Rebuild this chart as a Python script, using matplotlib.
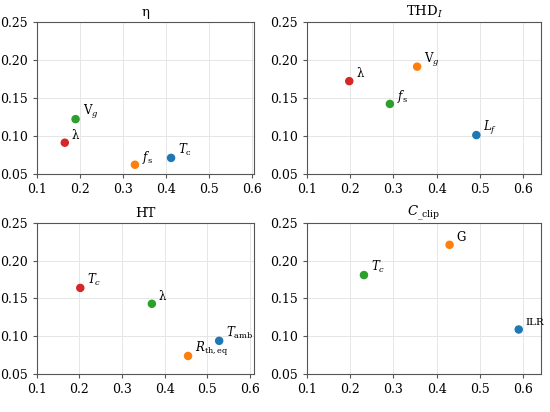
import matplotlib
matplotlib.use("Agg")
import matplotlib.pyplot as plt

plt.rcParams['font.family'] = 'DejaVu Serif'
plt.rcParams['mathtext.fontset'] = 'dejavuserif'

# data per panel: labels, x, y, colours
eta_labels = [r"V$_g$", "λ", r"$f_{\mathrm{s}}$", r"$T_{\mathrm{c}}$"]
eta_x = [0.190, 0.165, 0.328, 0.412]
eta_y = [0.122, 0.091, 0.062, 0.071]
eta_colors = ["tab:green", "tab:red", "tab:orange", "tab:blue"]

thd_labels = ["λ", r"V$_g$", r"$f_{\mathrm{s}}$", r"$L_f$"]
thd_x = [0.198, 0.355, 0.292, 0.492]
thd_y = [0.172, 0.191, 0.142, 0.101]
thd_colors = ["tab:red", "tab:orange", "tab:green", "tab:blue"]

ht_labels = [r"$T_c$", "λ", r"$T_{\mathrm{amb}}$", r"$R_{\mathrm{th,eq}}$"]
ht_x = [0.202, 0.370, 0.528, 0.455]
ht_y = [0.164, 0.143, 0.094, 0.074]
ht_colors = ["tab:red", "tab:green", "tab:blue", "tab:orange"]

clip_labels = ["G", r"$T_c$", "ILR"]
clip_x = [0.430, 0.232, 0.590]
clip_y = [0.221, 0.181, 0.109]
clip_colors = ["tab:orange", "tab:green", "tab:blue"]

panels = [
    ("η", eta_labels, eta_x, eta_y, eta_colors, [0.067, 0.578, 0.395, 0.369], 0.605),
    (r"THD$_I$", thd_labels, thd_x, thd_y, thd_colors, [0.558, 0.578, 0.426, 0.369], 0.642),
    ("HT", ht_labels, ht_x, ht_y, ht_colors, [0.067, 0.092, 0.395, 0.367], 0.61),
    (r"$C_{\mathrm{\_clip}}$", clip_labels, clip_x, clip_y, clip_colors, [0.558, 0.092, 0.426, 0.367], 0.642),
]

fig = plt.figure(figsize=(5.5, 4.12), dpi=100)

for title, labels, xs, ys, cols, rect, xmax in panels:
    ax = fig.add_axes(rect)
    ax.scatter(xs, ys, c=cols, s=26, zorder=3)
    for lab, x, y in zip(labels, xs, ys):
        fs = 7.5 if lab == "ILR" else 8.5
        ax.annotate(lab, (x, y), xytext=(5, 3), textcoords="offset points", fontsize=fs)
    ax.set_xlim(0.1, xmax)
    ax.set_ylim(0.05, 0.25)
    ax.set_xticks([0.1, 0.2, 0.3, 0.4, 0.5, 0.6])
    ax.set_yticks([0.05, 0.10, 0.15, 0.20, 0.25])
    ax.set_xticklabels(["0.1", "0.2", "0.3", "0.4", "0.5", "0.6"])
    ax.set_yticklabels(["0.05", "0.10", "0.15", "0.20", "0.25"])
    ax.tick_params(labelsize=9, length=3, color="#555555")
    ax.grid(True, color="#e6e6e6", linewidth=0.7)
    ax.set_axisbelow(True)
    for s in ax.spines.values():
        s.set_color("#555555")
    ax.set_title(title, fontsize=9.5, pad=4)

plt.savefig("out.png", dpi=100)
